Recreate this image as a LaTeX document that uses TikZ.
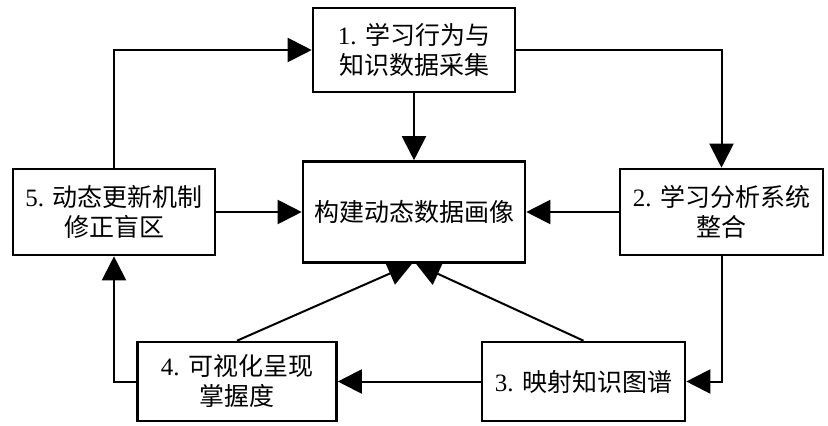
\documentclass[tikz,border=0pt]{standalone}
\usepackage{fontspec}
\newfontfamily\cjk{Noto Sans CJK SC}
\newfontfamily\lat{Liberation Serif}
\usetikzlibrary{arrows.meta,calc}

\begin{document}
\begin{tikzpicture}[x=1pt, y=-1pt,
	stage/.style={draw, line width=2.6pt, fill=white, align=center, inner sep=0pt,
		font=\cjk\fontsize{25}{30}\selectfont},
	flow/.style={line width=2pt, -{Triangle[length=24pt,width=24pt]}}]

% canvas %{{{2

	\useasboundingbox (0,0) rectangle (828,426);

% stages %{{{2

	\node[stage, minimum width=202pt, minimum height=84pt] (collect) at (414,50) {{\lat 1. }学习行为与\\知识数据采集};
	\node[stage, minimum width=222pt, minimum height=101pt] (portrait) at (414,212) {构建动态数据画像};
	\node[stage, minimum width=203pt, minimum height=86pt] (integrate) at (721.5,212) {{\lat 2. }学习分析系统\\整合};
	\node[stage, minimum width=203pt, minimum height=79pt] (mapping) at (583.5,381.5) {{\lat 3. }映射知识图谱};
	\node[stage, minimum width=199pt, minimum height=79pt] (visual) at (237,381.5) {{\lat 4. }可视化呈现\\掌握度};
	\node[stage, minimum width=202pt, minimum height=86pt] (renew) at (114,212) {{\lat 5. }动态更新机制\\修正盲区};

% cycle %{{{2

	\draw[flow] (collect.east) -| (integrate.north);
	\draw[flow] (integrate.south) |- (mapping.east);
	\draw[flow] (mapping.west) -- (visual.east);
	\draw[flow] (visual.west) -| (renew.south);
	\draw[flow] (renew.north) |- (collect.west);

% into the portrait %{{{2

	\draw[flow] (collect.south) -- (portrait.north);
	\draw[flow] (integrate.west) -- (portrait.east);
	\draw[flow] (renew.east) -- (portrait.west);
	\draw[flow] (visual.north) -- ($(portrait.south)+(-2,0)$);
	\draw[flow] (mapping.north) -- ($(portrait.south)+(2,0)$);

% closing %{{{2

\end{tikzpicture}
\end{document}
